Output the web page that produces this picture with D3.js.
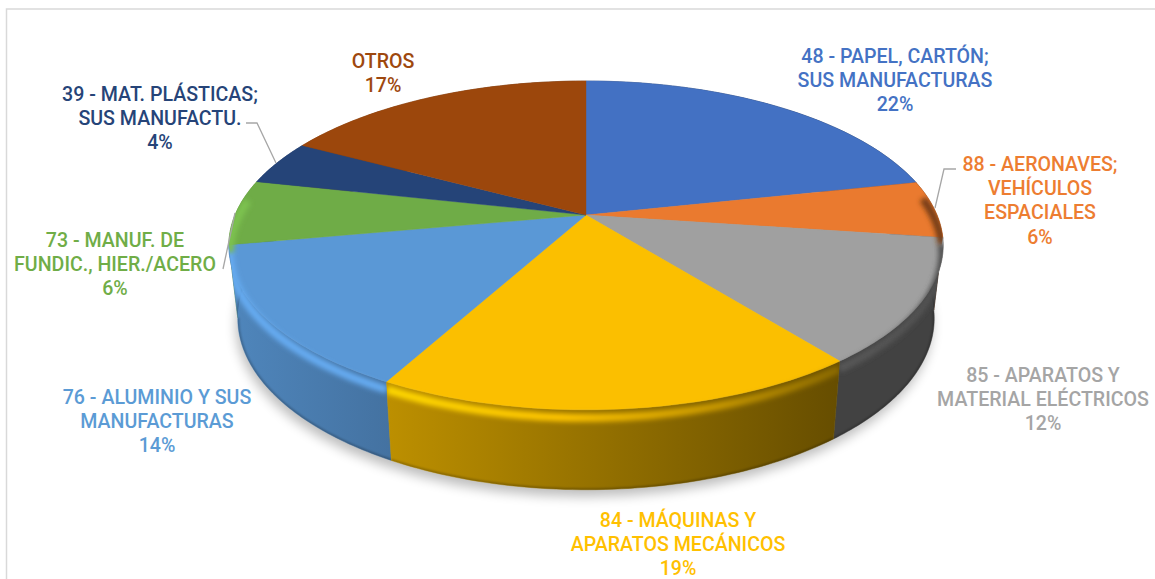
<!DOCTYPE html>
<html><head><meta charset="utf-8">
<script src="https://cdn.jsdelivr.net/npm/d3@7/dist/d3.min.js"></script>
<style>html,body{margin:0;padding:0;background:#fff}svg{display:block}text{font-family:Roboto,sans-serif;font-weight:500}</style>
</head><body><svg id="c" width="1155" height="579"></svg>
<script>
// Data
const categories = ["48 - PAPEL, CARTÓN;|SUS MANUFACTURAS","88 - AERONAVES;|VEHÍCULOS|ESPACIALES","85 - APARATOS Y|MATERIAL ELÉCTRICOS","84 - MÁQUINAS Y|APARATOS MECÁNICOS","76 - ALUMINIO Y SUS|MANUFACTURAS","73 - MANUF. DE|FUNDIC., HIER./ACERO","39 - MAT. PLÁSTICAS;|SUS MANUFACTU.","OTROS"];
const shares = [21.6,5.6,12.2,18.5,14.2,6.4,4.4,17.1];
const colors = ["#4371c3","#ea7a2f","#a0a0a0","#fbbf00","#5a98d6","#6fac47","#254478","#9c470c"];
const textColors = ["#4472c4","#ed7d31","#a5a5a5","#ffc000","#5b9bd5","#70ad47","#264478","#9e480e"];

// Layout
const labelX = [895,1040,1043,678,157,115,160,383];
const labelY = [55,163,374,519,396,239,93,60];
const lineH = 24.3;
const leaders = [null,[[956,169],[944,169],[935,208]],null,null,null,[[223,269],[235,213]],[[246,123],[257,123],[276,163]],null];

const svg = d3.select("#c");
const defs = svg.append("defs");
const blur = (id,s)=>defs.append("filter").attr("id",id).attr("filterUnits","userSpaceOnUse")
  .attr("x",0).attr("y",0).attr("width",1155).attr("height",579)
  .append("feGaussianBlur").attr("stdDeviation",s);
blur("b2",2.6); blur("b1",1.2); blur("b8",6);

// Chart frame
svg.append("path").attr("d","M6.5,579V9H1155").attr("fill","none").attr("stroke","#d9d9d9").attr("stroke-width",1.5);

// Perspective projection of the pie disc
const cx=586, cy=215, persp=-0.185, ay=158.8, dx=351;
const project=(theta,t)=>{
  const u=Math.sin(theta), v=-Math.cos(theta), w=1+persp*v;
  const X=dx*u/w, Y=ay*v/w;
  const top=[cx+X,cy+Y], bot=[cx+X*0.975,286.7+Y*1.042];
  return [top[0]+(bot[0]-top[0])*t, top[1]+(bot[1]-top[1])*t];
};
const arcs = d3.pie().sort(null).value(d=>d)(shares);
const line = d3.line();
const sample=(a0,a1,t)=>d3.range(0,61).map(i=>project(a0+(a1-a0)*i/60,t));

// Light falloff
const wallF = d3.scaleLinear().domain([229,390,835,942]).range([.88,.75,.41,.41]);
const rimF  = d3.scaleLinear().domain([229,390,560,700,842,942]).range([1.13,1.13,1.03,.82,.55,.5]);
const grad=(id,c,f)=>{
  const g=defs.append("linearGradient").attr("id",id).attr("gradientUnits","userSpaceOnUse")
    .attr("x1",229).attr("x2",942).attr("y1",0).attr("y2",0);
  f.domain().forEach(x=>{
    const r=d3.rgb(c), k=f(x);
    g.append("stop").attr("offset",(x-229)/713)
     .attr("stop-color",d3.rgb(Math.min(255,r.r*k),Math.min(255,r.g*k),Math.min(255,r.b*k)).formatHex());
  });
};
colors.forEach((c,i)=>{grad("w"+i,c,wallF);grad("r"+i,c,rimF);});

// Shadow
svg.append("path").attr("d",line(sample(0,2*Math.PI,1))+"Z").attr("transform","translate(-2,7)")
  .attr("fill","#000").attr("opacity",.26).attr("filter","url(#b8)");

const wallPath=d=>line([...sample(d.startAngle,d.endAngle,0),...sample(d.endAngle,d.startAngle,1)])+"Z";
const facePath=d=>line([[cx,cy],...sample(d.startAngle,d.endAngle,0)])+"Z";

// Walls
const order=[7,0,6,1,5,2,4,3];
svg.append("g").selectAll("path").data(order).join("path")
  .attr("d",i=>wallPath(arcs[i])).attr("fill",i=>`url(#w${i})`)
  .attr("stroke",i=>`url(#w${i})`).attr("stroke-width",.5);

const front0=1.42, front1=4.85;
// Lower edge of the walls
arcs.forEach((d,i)=>{
  const a0=Math.max(d.startAngle,front0), a1=Math.min(d.endAngle,front1);
  if(a1<=a0) return;
  const cp=defs.append("clipPath").attr("id","clw"+i);
  cp.append("path").attr("d",wallPath(d));
  svg.append("g").attr("clip-path",`url(#clw${i})`)
    .append("path").attr("d",line(sample(a0,a1,1))).attr("fill","none")
    .attr("stroke","#000").attr("stroke-opacity",.25).attr("stroke-width",3).attr("filter","url(#b1)");
});

// Top faces
svg.append("g").selectAll("path").data(arcs).join("path")
  .attr("d",facePath).attr("fill",(d,i)=>colors[i]).attr("stroke",(d,i)=>colors[i]).attr("stroke-width",.4);

// Rim bevel
arcs.forEach((d,i)=>{
  const a0=Math.max(d.startAngle,front0), a1=Math.min(d.endAngle,front1);
  if(a1<=a0) return;
  const cp=defs.append("clipPath").attr("id","cl"+i);
  cp.append("path").attr("d",wallPath(d));
  cp.append("path").attr("d",facePath(d));
  svg.append("g").attr("clip-path",`url(#cl${i})`)
    .append("path").attr("d",line(sample(a0,a1,.1))).attr("fill","none")
    .attr("stroke",`url(#r${i})`).attr("stroke-width",8).attr("filter","url(#b2)");
});

// Leader lines
svg.append("g").selectAll("path").data(leaders.filter(Boolean)).join("path")
  .attr("d",line).attr("fill","none").attr("stroke","#a6a6a6").attr("stroke-width",1.3);

// Labels
const pct=d3.format(".0f");
const lg=svg.append("g").attr("text-anchor","middle").attr("font-size",19.6);
categories.forEach((c,i)=>{
  const lines=[...c.split("|"),pct(shares[i])+"%"];
  const t=lg.append("text").attr("fill",textColors[i]);
  lines.forEach((s,j)=>t.append("tspan").attr("x",labelX[i]).attr("y",labelY[i]+j*lineH+7.6).text(s));
});
</script></body></html>
